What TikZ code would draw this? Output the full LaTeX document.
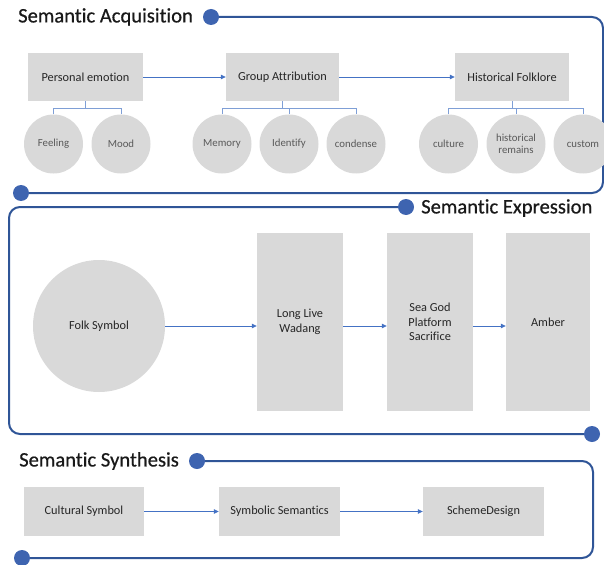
\documentclass[tikz,border=0pt]{standalone}
\usepackage{fontspec}
\setmainfont[Ligatures=NoCommon]{Carlito}
\newfontfamily\headfont[FakeBold=0.6,Ligatures=NoCommon]{Carlito}
\usepackage{tikz}
\usetikzlibrary{arrows.meta}
\definecolor{framec}{HTML}{2F5597}
\definecolor{dotc}{HTML}{3E64B0}
\definecolor{arrc}{HTML}{4472C4}
\definecolor{brkc}{HTML}{7F9FD6}
\definecolor{boxc}{HTML}{D9D9D9}

\begin{document}
\begin{tikzpicture}[x=1pt, y=-1pt]
      %styles for boxes, circles and lines
      \tikzset{
      greybox/.style={fill=boxc, draw=none, inner sep=0pt, align=center,
        text=black!85, font=\fontsize{12.3}{14.7}\selectfont},
      greyball/.style={circle, fill=boxc, draw=none, inner sep=0pt, minimum size=59pt,
        align=center, text=black!65, font=\fontsize{10.8}{12.5}\selectfont},
      flow/.style={draw=arrc, line width=0.8pt, -{Triangle[length=5pt, width=4.5pt]}},
      branch/.style={draw=brkc, line width=1pt},
      frame/.style={draw=framec, line width=2pt, rounded corners=11pt},
      knob/.style={fill=dotc},
      heading/.style={anchor=west, inner sep=0pt, text=black!90, font=\headfont\fontsize{20.6}{24}\selectfont},
      }
      \useasboundingbox (0,0) rectangle (604,564);

      %Stage 1 - Semantic Acquisition
      \node[heading] (t1) at (18,17) {Semantic Acquisition};
      \coordinate (k1) at (211,17);
      \coordinate (k1b) at (21,193);
      \draw[frame] (k1) -- (603,17) -- (603,193) -- (k1b);
      \node[greybox, minimum width=115pt, minimum height=48pt] (pe) at (85.5,77) {Personal emotion};
      \node[greybox, minimum width=113pt, minimum height=48pt] (ga) at (282.5,77) {Group Attribution};
      \node[greybox, minimum width=114pt, minimum height=48pt] (hf) at (512,77) {Historical Folklore};
      \draw[flow] (pe) -- (ga);
      \draw[flow] (ga) -- (hf);
      \node[greyball] (feel) at (53.5,144) {Feeling};
      \node[greyball] (mood) at (121,144) {Mood};
      \node[greyball] (mem) at (222,144) {Memory};
      \node[greyball] (idt) at (289,144) {Identify};
      \node[greyball] (cond) at (356,144) {condense};
      \node[greyball] (cul) at (448.5,144) {culture};
      \node[greyball] (hr) at (516,144) {historical\\remains};
      \node[greyball] (cus) at (583,144) {custom};
      %branches
      \draw[branch] (pe.south) -- ++(0,7) -| (feel.north);
      \draw[branch] (pe.south) -- ++(0,7) -| (mood.north);
      \draw[branch] (ga.south) -- ++(0,7) -| (mem.north);
      \draw[branch] (ga.south) -- ++(0,7) -| (idt.north);
      \draw[branch] (ga.south) -- ++(0,7) -| (cond.north);
      \draw[branch] (hf.south) -- ++(0,7) -| (cul.north);
      \draw[branch] (hf.south) -- ++(0,7) -| (hr.north);
      \draw[branch] (hf.south) -- ++(0,7) -| (cus.north);
      \fill[knob] (k1) circle (8pt);
      \fill[knob] (k1b) circle (8pt);

      %Stage 2 - Semantic Expression
      \node[heading] (t2) at (421,208) {Semantic Expression};
      \coordinate (k2) at (406,207);
      \coordinate (k2b) at (592,434);
      \draw[frame] (k2) -- (9,207) -- (9,434) -- (k2b);
      \node[greyball, minimum size=132pt, font=\fontsize{12.3}{14.7}\selectfont, text=black!85] (folk) at (99,326) {Folk Symbol};
      \node[greybox, minimum width=86pt, minimum height=178pt] (wad) at (300,322) {Long Live\\Wadang};
      \node[greybox, minimum width=86pt, minimum height=178pt] (sea) at (430,322) {Sea God\\Platform\\Sacrifice};
      \node[greybox, minimum width=84pt, minimum height=178pt] (amb) at (548,322) {Amber};
      \draw[flow] (folk.east) -- (folk.east -| wad.west);
      \draw[flow] (wad.east |- folk.east) -- (sea.west |- folk.east);
      \draw[flow] (sea.east |- folk.east) -- (amb.west |- folk.east);
      \fill[knob] (k2) circle (8pt);
      \fill[knob] (k2b) circle (8pt);

      %Stage 3 - Semantic Synthesis
      \node[heading] (t3) at (19,461) {Semantic Synthesis};
      \coordinate (k3) at (197,461);
      \coordinate (k3b) at (22,558);
      \draw[frame] (k3) -- (593,461) -- (593,558) -- (k3b);
      \node[greybox, minimum width=120pt, minimum height=49pt] (cs) at (84,511.5) {Cultural Symbol};
      \node[greybox, minimum width=121pt, minimum height=49pt] (ss) at (279.5,511.5) {Symbolic Semantics};
      \node[greybox, minimum width=121pt, minimum height=49pt] (sd) at (483.5,511.5) {SchemeDesign};
      \draw[flow] (cs) -- (ss);
      \draw[flow] (ss) -- (sd);
      \fill[knob] (k3) circle (8pt);
      \fill[knob] (k3b) circle (8pt);
\end{tikzpicture}
\end{document}
